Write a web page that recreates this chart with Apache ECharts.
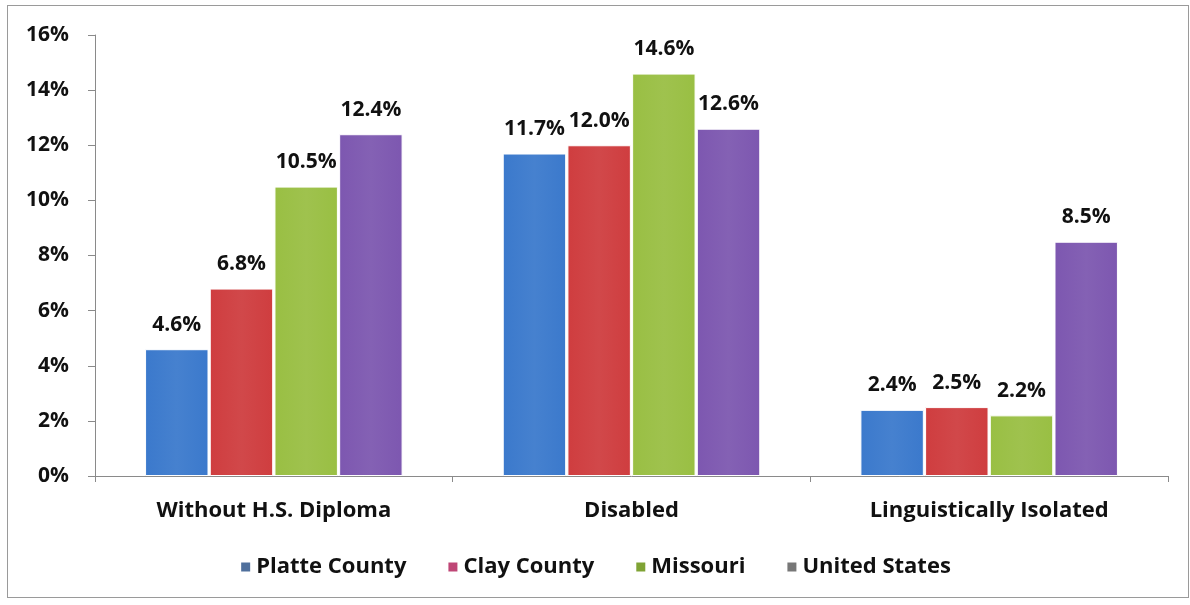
<!DOCTYPE html>
<html>
<head>
<meta charset="utf-8">
<script src="https://cdn.jsdelivr.net/npm/echarts@6/dist/echarts.min.js"></script>
<style>
  html, body { margin: 0; padding: 0; background: #fff; }
  #frame { position: absolute; left: 7px; top: 5px; width: 1182px; height: 593px; border: 1px solid #9a9a9a; box-sizing: border-box; }
  #chart { position: absolute; left: 0; top: 0; width: 1190px; height: 605px; }
</style>
</head>
<body>
<div id="frame"></div>
<div id="chart"></div>
<script>
const categories = ['Without H.S. Diploma', 'Disabled', 'Linguistically Isolated'];
const seriesNames = ['Platte County', 'Clay County', 'Missouri', 'United States'];
const platte = [4.6, 11.7, 2.4];
const clay = [6.8, 12.0, 2.5];
const missouri = [10.5, 14.6, 2.2];
const unitedStates = [12.4, 12.6, 8.5];
const yTicks = [0, 2, 4, 6, 8, 10, 12, 14, 16];

const barColors = ['#3b79cc', '#cf3d3f', '#99bf43', '#7d57b0'];
const legendColors = ['#4f6f9c', '#bf4676', '#7fa334', '#777777'];
const values = [platte, clay, missouri, unitedStates];
const font = '"Open Sans", "Liberation Sans", sans-serif';

// soft horizontal sheen across each bar
function shade(c) {
  return {
    type: 'linear', x: 0, y: 0, x2: 1, y2: 0,
    colorStops: [
      { offset: 0, color: c },
      { offset: 0.5, color: echarts.color.lift(c, 0.06) },
      { offset: 1, color: c }
    ]
  };
}

const chart = echarts.init(document.getElementById('chart'));
chart.setOption({
  animation: false,
  backgroundColor: 'transparent',
  textStyle: { fontFamily: font },
  grid: { left: 95, right: 22, top: 35, bottom: 129, containLabel: false },
  legend: {
    bottom: 22,
    left: 'center',
    itemWidth: 11,
    itemHeight: 11,
    itemGap: 40,
    icon: 'rect',
    textStyle: { fontSize: 22, fontWeight: 'bold', color: '#111', fontFamily: font },
    data: seriesNames.map((n, i) => ({ name: n, itemStyle: { color: legendColors[i] } }))
  },
  xAxis: {
    type: 'category',
    data: categories,
    axisLine: { lineStyle: { color: '#8a8a8a', width: 1 } },
    axisTick: { show: true, length: 6, lineStyle: { color: '#8a8a8a' } },
    axisLabel: { fontSize: 22, fontWeight: 'bold', color: '#111', margin: 24 }
  },
  yAxis: {
    type: 'value',
    min: 0, max: 16, interval: 2,
    splitLine: { show: false },
    axisLine: { show: true, lineStyle: { color: '#8a8a8a', width: 1 } },
    axisTick: { show: true, length: 7, lineStyle: { color: '#8a8a8a' } },
    axisLabel: {
      fontSize: 21, fontWeight: 'bold', color: '#111', margin: 26,
      formatter: v => yTicks.includes(v) ? v + '%' : ''
    }
  },
  series: seriesNames.map((n, i) => ({
    name: n,
    type: 'bar',
    data: values[i],
    barGap: '2%',
    barCategoryGap: '28%',
    itemStyle: { color: shade(barColors[i]), borderColor: '#ffffff', borderWidth: 1 },
    label: {
      show: true, position: 'top', distance: 14,
      fontSize: 21, fontWeight: 'bold', color: '#111', fontFamily: font,
      formatter: p => p.value.toFixed(1) + '%'
    }
  }))
});
</script>
</body>
</html>
